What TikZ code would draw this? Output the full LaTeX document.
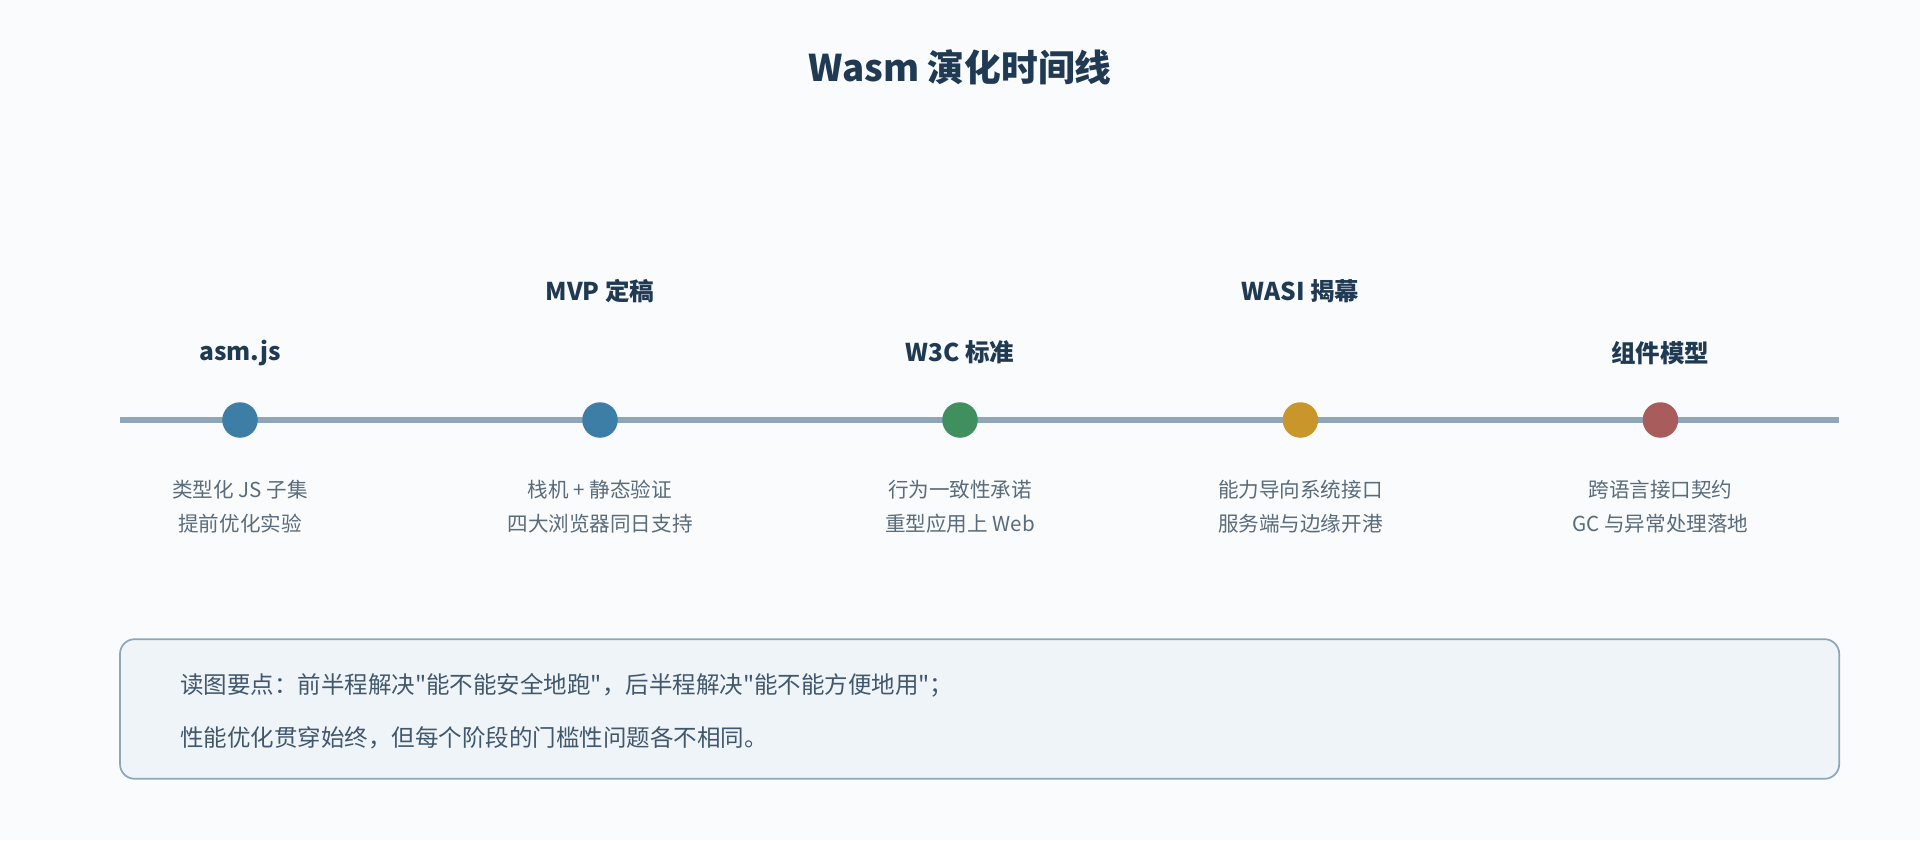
\documentclass[tikz,border=0pt]{standalone}
\usepackage{fontspec}
\setmainfont{Noto Sans CJK SC}[Ligatures=TeXOff]
\usetikzlibrary{positioning}
\definecolor{ink}{HTML}{1F3A52}
\definecolor{subink}{HTML}{5A6B7A}
\definecolor{rail}{HTML}{8FA6B8}
\definecolor{bg}{HTML}{F9FBFD}
\definecolor{boxfill}{HTML}{EFF4F8}
\definecolor{cblue}{HTML}{3D7EA6}
\definecolor{cgreen}{HTML}{3F8F5F}
\definecolor{cgold}{HTML}{C9962B}
\definecolor{cred}{HTML}{A85C5C}
\begin{document}
\begin{tikzpicture}[x=0.5pt, y=-0.5pt]
    \tikzset{
        dot/.style={circle, minimum size=14.5pt, inner sep=0pt},
        stage/.style={font=\fontsize{10}{12}\selectfont\bfseries, text=ink},
        note/.style={font=\fontsize{8.4}{14}\selectfont, text=subink, align=center}
    }
    \fill[bg] (0,0) rectangle (1568,686);
    \node[font=\fontsize{15}{18}\selectfont\bfseries, text=ink] (title) at (784,55) {Wasm 演化时间线};

    \coordinate (railL) at (98,343);
    \coordinate (railR) at (1502,343);
    \draw[rail, line width=2.5pt] (railL) -- (railR);

    \node[dot, fill=cblue] (d1) at (196,343) {};
    \node[dot, fill=cblue] (d2) at (490,343) {};
    \node[dot, fill=cgreen] (d3) at (784,343) {};
    \node[dot, fill=cgold] (d4) at (1062,343) {};
    \node[dot, fill=cred] (d5) at (1356,343) {};

    \node[stage] (s1) at (196,288) {asm.js};
    \node[stage] (s2) at (490,238) {MVP 定稿};
    \node[stage] (s3) at (784,288) {W3C 标准};
    \node[stage] (s4) at (1062,238) {WASI 揭幕};
    \node[stage] (s5) at (1356,288) {组件模型};

    \node[note] (n1) at (196,414) {类型化 JS 子集\\提前优化实验};
    \node[note] (n2) at (490,414) {栈机 + 静态验证\\四大浏览器同日支持};
    \node[note] (n3) at (784,414) {行为一致性承诺\\重型应用上 Web};
    \node[note] (n4) at (1062,414) {能力导向系统接口\\服务端与边缘开港};
    \node[note] (n5) at (1356,414) {跨语言接口契约\\GC 与异常处理落地};

    \draw[rail, fill=boxfill, line width=0.7pt, rounded corners=6pt] (98,522) rectangle (1502,636);
    \node[anchor=west, font=\fontsize{9.6}{21.5}\selectfont, text=ink!85, align=left] (key) at (140,581)
        {读图要点：前半程解决"能不能安全地跑"，后半程解决"能不能方便地用"；\\性能优化贯穿始终，但每个阶段的门槛性问题各不相同。};
\end{tikzpicture}
\end{document}
